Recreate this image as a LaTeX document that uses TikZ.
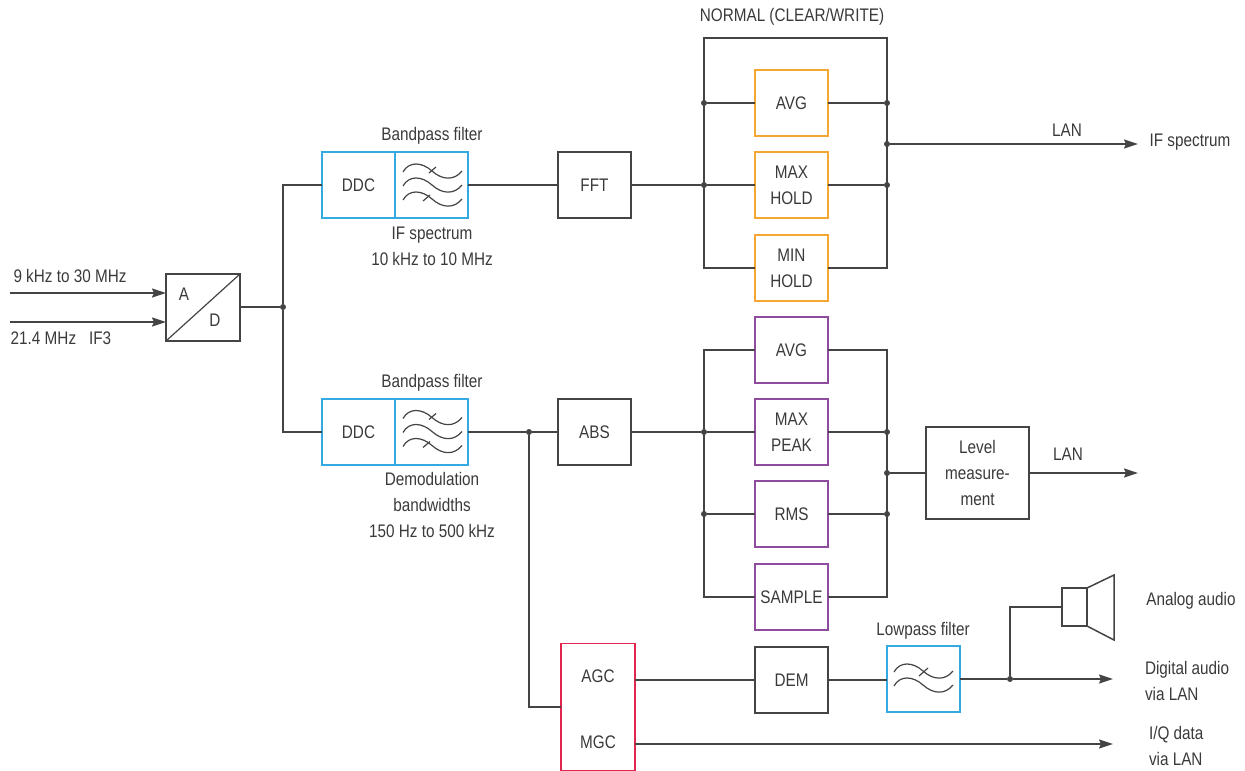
\documentclass[tikz,border=0pt]{standalone}
\usepackage{fontspec}
\setmainfont[FakeStretch=0.84]{Liberation Sans}
\usetikzlibrary{arrows.meta}
\definecolor{ln}{HTML}{444444}
\definecolor{txt}{HTML}{3A3A3A}
\definecolor{cblue}{HTML}{35A9E1}
\definecolor{corange}{HTML}{F5A733}
\definecolor{cpurple}{HTML}{8E4C9E}
\definecolor{cred}{HTML}{E0254F}
\tikzset{
  wire/.style={draw=ln,line width=1.6pt},
  arrowwire/.style={wire,-{Stealth[length=14pt,width=9pt,inset=2pt]}},
  blockbox/.style={draw=ln,line width=1.5pt,minimum width=73pt,minimum height=66pt,inner sep=0pt,outer sep=0pt,align=center,text=txt,font=\fontsize{18.2}{26}\selectfont},
  orangebox/.style={blockbox,draw=corange},
  purplebox/.style={blockbox,draw=cpurple},
  bluebox/.style={blockbox,draw=cblue},
  label/.style={inner sep=0pt,outer sep=0pt,align=center,text=txt,font=\fontsize{18.2}{26}\selectfont},
  dotj/.style={circle,fill=ln,draw=none,minimum size=6pt,inner sep=0pt,outer sep=0pt},
  fline/.style={draw=ln,line width=1.2pt}
}
\newcommand{\fcurve}[2]{\draw[fline,shift={(#1,#2)}] (0,0) .. controls (6,-11) and (19,-10) .. (29,-1) .. controls (39,8) and (51,9) .. (59,-1);}
\begin{document}
\begin{tikzpicture}[x=1pt,y=-1pt]
\useasboundingbox (0,0) rectangle (1245,771);
\clip (0,0) rectangle (1245,771);
% A/D
\node[blockbox,minimum width=74pt,minimum height=67pt] (ad) at (203,307.5) {};
\draw[line width=1.2pt,draw=ln] (ad.south west) -- (ad.north east);
\node[label] (adA) at (184,294) {A};
\node[label] (adD) at (215,320) {D};
\coordinate (in1) at (10,293);
\coordinate (in2) at (10,322);
\draw[arrowwire] (in1) -- (in1 -| ad.west);
\draw[arrowwire] (in2) -- (in2 -| ad.west);
\node[label] (l1) at (70,276) {9 kHz to 30 MHz};
\node[label] (l2) at (61,338) {21.4 MHz\hspace{13pt}IF3};
\node[dotj] (j0) at (283,307) {};
% Upper chain
\node[bluebox] (ddc1) at (358.5,185) {DDC};
\node[bluebox] (bp1) at (431.5,185) {};
\node[bluebox] (ddc2) at (358.5,432) {DDC};
\node[bluebox] (bp2) at (431.5,432) {};
\node[blockbox] (fft) at (594.5,185) {FFT};
\node[blockbox] (abs) at (594.5,432) {ABS};
\foreach \oy in {0,246.5}{
 \fcurve{403}{172+\oy}
 \fcurve{403}{186+\oy}
 \fcurve{403}{200+\oy}
 \draw[fline] (429,173+\oy) -- (436,167+\oy);
 \draw[fline] (423,201+\oy) -- (430,195+\oy);
}
\node[label] at (432,136) {Bandpass filter};
\node[label] at (432,383) {Bandpass filter};
\node[label] at (432,246.5) {IF spectrum\\10 kHz to 10 MHz};
\node[label] at (432,505) {Demodulation\\bandwidths\\150 Hz to 500 kHz};
\draw[wire] (ad.east |- j0) -- (j0);
\draw[wire] (ddc1.west) -| (j0);
\draw[wire] (ddc2.west) -| (j0);
\draw[wire] (bp1.east) -- (fft.west);
\node[dotj] (j1) at (529,432) {};
\draw[wire] (bp2.east) -- (j1);
\draw[wire] (j1) -- (abs.west);
% Orange bank
\node[orangebox] (avg1) at (791.5,103) {AVG};
\node[orangebox] (max1) at (791.5,185) {MAX\\HOLD};
\node[orangebox] (min1) at (791.5,268) {MIN\\HOLD};
\node[dotj] (a1l) at (704,103) {};
\node[dotj] (a2l) at (704,185) {};
\node[dotj] (a1r) at (887,103) {};
\node[dotj] (a2r) at (887,185) {};
\node[dotj] (out1) at (887,144) {};
\coordinate (tl) at (704,38);
\coordinate (tr) at (887,38);
\draw[wire] (min1.west) -| (tl) -- (tr) |- (min1.east);
\draw[wire] (a1l) -- (avg1.west);
\draw[wire] (avg1.east) -- (a1r);
\draw[wire] (fft.east) -- (a2l);
\draw[wire] (a2l) -- (max1.west);
\draw[wire] (max1.east) -- (a2r);
\node[label] at (792,17) {NORMAL (CLEAR/WRITE)};
\coordinate (end1) at (1138,144);
\draw[arrowwire] (out1) -- (end1);
\node[label] at (1067,130) {LAN};
\node[label] at (1190,142) {IF spectrum};
% Purple bank
\node[purplebox] (avg2) at (791.5,350) {AVG};
\node[purplebox] (max2) at (791.5,432) {MAX\\PEAK};
\node[purplebox] (rms) at (791.5,514) {RMS};
\node[purplebox] (samp) at (791.5,597) {SAMPLE};
\node[dotj] (b1l) at (704,432) {};
\node[dotj] (b2l) at (704,514) {};
\node[dotj] (b1r) at (887,432) {};
\node[dotj] (b2r) at (887,514) {};
\node[dotj] (out2) at (887,473) {};
\coordinate (pl) at (704,350);
\coordinate (pr) at (887,350);
\draw[wire] (avg2.west) -- (pl) -- (pl |- samp.west) -- (samp.west);
\draw[wire] (avg2.east) -- (pr) -- (pr |- samp.east) -- (samp.east);
\draw[wire] (abs.east) -- (b1l);
\draw[wire] (b1l) -- (max2.west);
\draw[wire] (max2.east) -- (b1r);
\draw[wire] (b2l) -- (rms.west);
\draw[wire] (rms.east) -- (b2r);
\node[blockbox,minimum width=103pt,minimum height=92pt] (level) at (977.5,473) {Level\\measure-\\ment};
\draw[wire] (out2) -- (level.west);
\coordinate (end2) at (1138,473);
\draw[arrowwire] (level.east) -- (end2);
\node[label] at (1068,454) {LAN};
% Lower chain
\node[blockbox,draw=cred,minimum width=74pt,minimum height=127pt] (gain) at (598,707) {};
\node[label] (agc) at (598,676) {AGC};
\node[label] (mgc) at (598,742) {MGC};
\coordinate (jg) at (529,707);
\draw[wire] (j1) -- (jg) -- (gain.west);
\node[blockbox] (dem) at (791.5,680) {DEM};
\node[bluebox] (lp) at (923.5,679) {};
\fcurve{894}{672}
\fcurve{894}{686}
\draw[fline] (919,676) -- (928,668);
\node[label] at (923,631) {Lowpass filter};
\coordinate (agcout) at (635,680);
\draw[wire] (agcout) -- (dem.west);
\draw[wire] (dem.east) -- (lp.west |- dem.east);
\node[dotj] (j2) at (1010,679) {};
\draw[wire] (lp.east) -- (j2);
\coordinate (end3) at (1113,679);
\draw[arrowwire] (j2) -- (end3);
\node[draw=ln,line width=1.5pt,minimum width=25pt,minimum height=38pt,inner sep=0pt,outer sep=0pt] (spk) at (1074.5,607) {};
\draw[line width=1.5pt,draw=ln,line join=miter] (spk.north east) -- (1114,575) -- (1114,640) -- (spk.south east);
\draw[wire] (j2) |- (spk.west);
\coordinate (mgcout) at (635,744);
\coordinate (end4) at (1113,744);
\draw[arrowwire] (mgcout) -- (end4);
\node[label] at (1191,601) {Analog audio};
\node[label,align=left,anchor=west] at (1145,681) {Digital audio\\via LAN};
\node[label,align=left,anchor=west] at (1149,746) {I/Q data\\via LAN};
\end{tikzpicture}
\end{document}
